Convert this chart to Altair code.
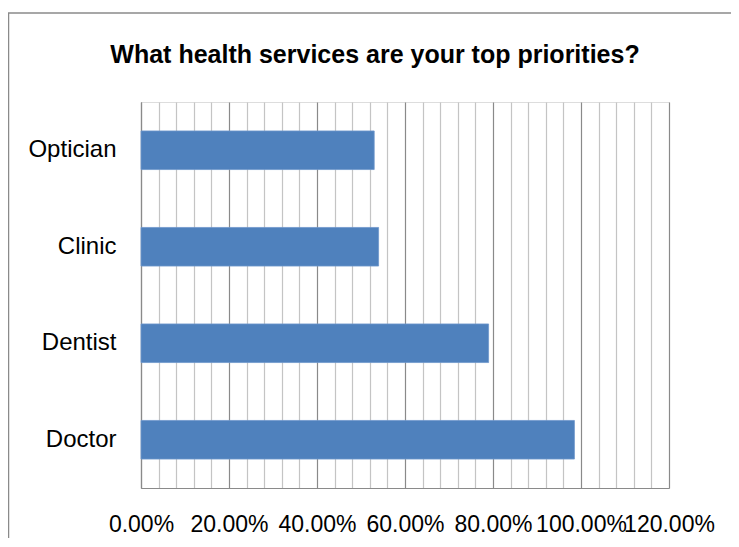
import altair as alt
import pandas as pd

title_text = "What health services are your top priorities?"
services = ["Optician", "Clinic", "Dentist", "Doctor"]
shares = [0.53, 0.54, 0.79, 0.985]
major_ticks = [0, 0.2, 0.4, 0.6, 0.8, 1.0, 1.2]
minor_step = 0.04
tick_values = [round(i * minor_step, 2) for i in range(int(round(1.2 / minor_step)) + 1)]

df = pd.DataFrame({"service": services, "share": shares})

grid_color = {
    "condition": {"test": "round(datum.value*100) % 20 === 0", "value": "#8a8a8a"},
    "value": "#c4c4c4",
}

bars = alt.Chart(df).mark_bar(color="#4f81bd", stroke="#6f97cc", strokeWidth=0.8).encode(
    x=alt.X(
        "share:Q",
        scale=alt.Scale(domain=[0, 1.2], nice=False, zero=True),
        axis=alt.Axis(
            title=None,
            values=tick_values,
            labelExpr="round(datum.value*100) % 20 === 0 ? format(datum.value, '.2%') : ''",
            labelOverlap=False,
            labelFlush=False,
            labelFont="Liberation Sans",
            labelFontSize=23,
            labelColor="#000000",
            labelPadding=25,
            ticks=False,
            grid=True,
            gridColor=grid_color,
            gridWidth=1.2,
            domainColor="#8a8a8a",
            domainWidth=1.2,
        ),
    ),
    y=alt.Y(
        "service:N",
        sort=services,
        scale=alt.Scale(paddingInner=0.6, paddingOuter=0.3),
        axis=alt.Axis(
            title=None,
            labelFont="Liberation Sans",
            labelFontSize=24,
            labelColor="#000000",
            labelPadding=25,
            ticks=False,
            grid=False,
            domainColor="#8a8a8a",
            domainWidth=1.2,
        ),
    ),
)

one_row = alt.Data(values=[{"k": 1}])
title_mark = alt.Chart(one_row).mark_text(
    font="Liberation Sans", fontSize=25, fontWeight="bold", color="#000000",
    align="center", baseline="alphabetic",
).encode(text=alt.value(title_text), x=alt.value(234), y=alt.value(-39))

top_border = alt.Chart(one_row).mark_rule(color="#8a8a8a", strokeWidth=1.5).encode(
    x=alt.value(-133), x2=alt.value(620), y=alt.value(-89)
)
left_border = alt.Chart(one_row).mark_rule(color="#8a8a8a", strokeWidth=1.5).encode(
    x=alt.value(-132.5), y=alt.value(-89), y2=alt.value(470)
)

chart = alt.layer(bars, title_mark, top_border, left_border).properties(
    width=528,
    height=386,
    autosize=alt.AutoSizeParams(type="none"),
    padding={"left": 133, "top": 94, "right": 62, "bottom": 50},
).configure_view(stroke=None).configure(background="white")

chart.save("out.html", embed_options={"renderer": "svg", "actions": False})
